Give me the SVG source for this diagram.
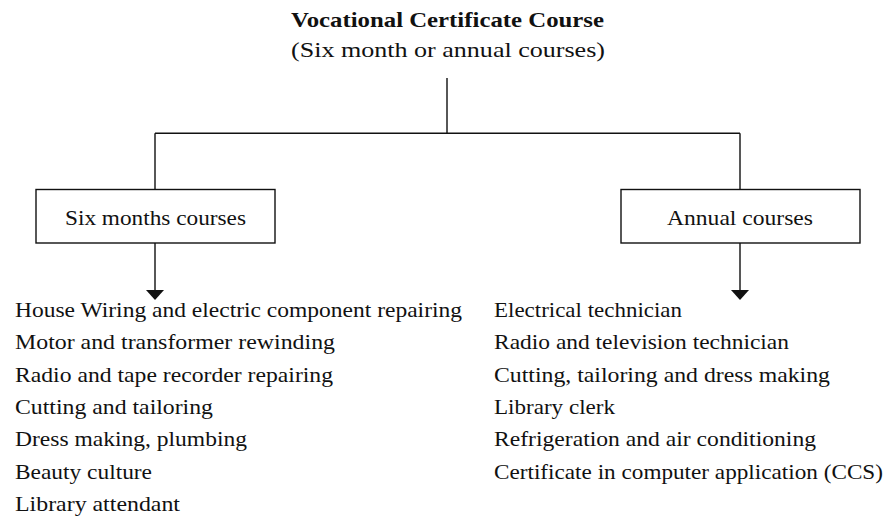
<svg xmlns="http://www.w3.org/2000/svg" width="886" height="530" viewBox="0 0 886 530">
<style>
text{font-family:"Liberation Serif","Times New Roman",serif;font-size:22px;fill:#111}
.b{font-weight:bold}
.ln{stroke:#111;stroke-width:1.4;fill:none}
.bx{stroke:#111;stroke-width:1.4;fill:#fff}
.ah{fill:#111}
</style>
<rect width="886" height="530" fill="#fff"/>
<g id="connectors">
<path class="ln" d="M447,78V133.3M155,133.3H740M155,133.3V190M740,133.3V190M155,243V291M740,243V291"/>
<polygon class="ah" points="146,290 164,290 155,300"/>
<polygon class="ah" points="731,290 749,290 740,300"/>
</g>
<g id="root">
<text class="b" x="291" y="27" textLength="313" lengthAdjust="spacingAndGlyphs">Vocational Certificate Course</text>
<text x="291" y="57" textLength="314" lengthAdjust="spacingAndGlyphs">(Six month or annual courses)</text>
</g>
<g id="six-months">
<rect class="bx" x="36" y="189.5" width="239" height="53.5"/>
<text x="65" y="225" textLength="181" lengthAdjust="spacingAndGlyphs">Six months courses</text>
</g>
<g id="annual">
<rect class="bx" x="621" y="189.5" width="239" height="53.5"/>
<text x="667" y="225" textLength="146" lengthAdjust="spacingAndGlyphs">Annual courses</text>
</g>
<g id="six-months-list">
<text x="15" y="317" textLength="447" lengthAdjust="spacingAndGlyphs">House Wiring and electric component repairing</text>
<text x="15" y="349.3" textLength="320" lengthAdjust="spacingAndGlyphs">Motor and transformer rewinding</text>
<text x="15" y="381.6" textLength="318" lengthAdjust="spacingAndGlyphs">Radio and tape recorder repairing</text>
<text x="15" y="413.9" textLength="198" lengthAdjust="spacingAndGlyphs">Cutting and tailoring</text>
<text x="15" y="446.2" textLength="232" lengthAdjust="spacingAndGlyphs">Dress making, plumbing</text>
<text x="15" y="478.5" textLength="137" lengthAdjust="spacingAndGlyphs">Beauty culture</text>
<text x="15" y="510.8" textLength="165" lengthAdjust="spacingAndGlyphs">Library attendant</text>
</g>
<g id="annual-list">
<text x="494" y="317" textLength="188" lengthAdjust="spacingAndGlyphs">Electrical technician</text>
<text x="494" y="349.3" textLength="295" lengthAdjust="spacingAndGlyphs">Radio and television technician</text>
<text x="494" y="381.6" textLength="336" lengthAdjust="spacingAndGlyphs">Cutting, tailoring and dress making</text>
<text x="494" y="413.9" textLength="121" lengthAdjust="spacingAndGlyphs">Library clerk</text>
<text x="494" y="446.2" textLength="322" lengthAdjust="spacingAndGlyphs">Refrigeration and air conditioning</text>
<text x="494" y="478.5" textLength="389" lengthAdjust="spacingAndGlyphs">Certificate in computer application (CCS)</text>
</g>
</svg>
